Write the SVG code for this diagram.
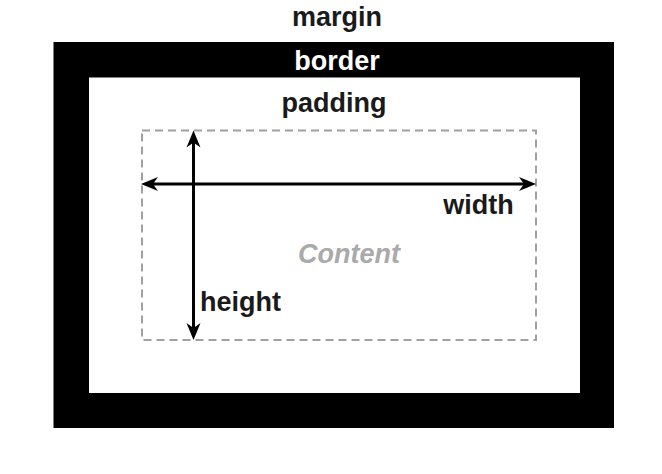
<svg xmlns="http://www.w3.org/2000/svg" width="662" height="474" viewBox="0 0 662 474">
<style>
.lbl{font-family:"Liberation Sans",Arial,sans-serif;font-weight:bold;font-size:27px;text-anchor:middle}
.dark{fill:#1a1a1a}
.ax{stroke:#000;stroke-width:3;fill:none}
.head{fill:#000}
</style>
<rect width="662" height="474" fill="#fff"/>
<g id="margin">
<text class="lbl dark" x="337" y="26">margin</text>
</g>
<g id="border">
<rect x="53.5" y="42" width="560.5" height="386" fill="#000"/>
<text class="lbl" x="337" y="69.5" fill="#fff">border</text>
</g>
<g id="padding">
<rect x="89" y="77.5" width="491" height="315.5" fill="#fff"/>
<text class="lbl dark" x="334" y="112">padding</text>
</g>
<g id="content">
<rect x="142" y="130.5" width="394" height="209.5" fill="none" stroke="#a0a0a0" stroke-width="2" stroke-dasharray="8 5"/>
<text class="lbl" x="349" y="262.5" fill="#aaa" font-style="italic">Content</text>
</g>
<g id="connectors">
<line class="ax" x1="150" y1="184" x2="526" y2="184"/>
<polygon class="head" points="536,184 519,177 524,184 519,191"/>
<polygon class="head" points="141,184 158,177 153,184 158,191"/>
<line class="ax" x1="193.5" y1="140" x2="193.5" y2="331"/>
<polygon class="head" points="193.5,130.5 186.5,147.5 193.5,142.5 200.5,147.5"/>
<polygon class="head" points="193.5,340 186.5,323 193.5,328 200.5,323"/>
</g>
<g id="labels">
<text class="lbl dark" x="478.5" y="214">width</text>
<text class="lbl dark" x="240.5" y="311">height</text>
</g>
</svg>
